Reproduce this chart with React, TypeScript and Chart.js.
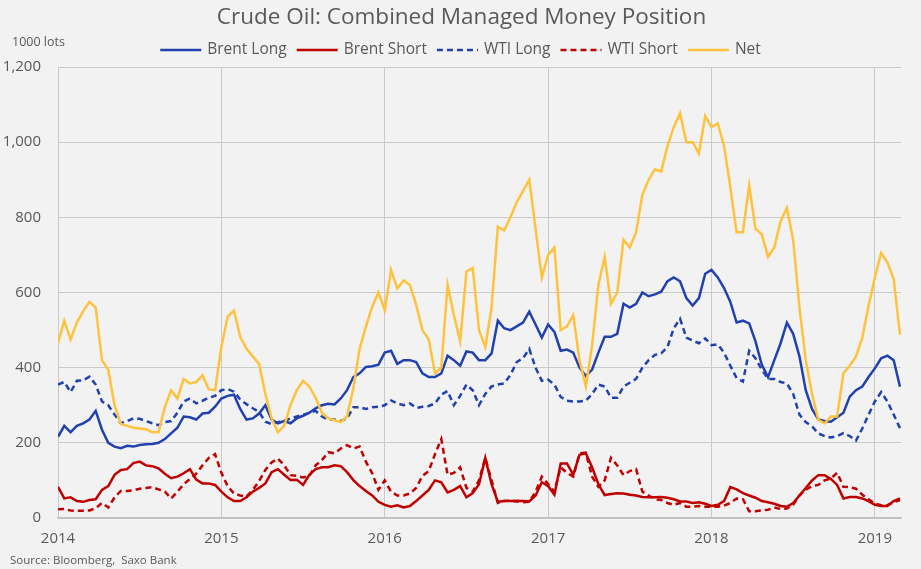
import { useEffect, useRef } from "react";
import { Chart, registerables } from "chart.js";

Chart.register(...registerables);

const TITLE = "Crude Oil: Combined Managed Money Position";
const UNIT_LABEL = "1000 lots";
const SOURCE = "Source: Bloomberg,  Saxo Bank";

// Observations are roughly every second week, starting in the first week of 2014
const firstYear = 2014;
const pointsPerYear = 26;

const yearTicks = [2014, 2015, 2016, 2017, 2018, 2019];
const valueTicks = [0, 200, 400, 600, 800, 1000, 1200];

const seriesNames = ["Brent Long", "Brent Short", "WTI Long", "WTI Short", "Net"];

const brentLong = [
  216, 245, 228, 245, 252, 262, 285, 235, 200, 190,
  186, 192, 190, 194, 196, 197, 200, 210, 225, 240,
  270, 268, 262, 278, 280, 296, 318, 325, 328, 290,
  262, 265, 278, 300, 262, 252, 258, 252, 265, 272,
  280, 292, 300, 304, 302, 318, 340, 375, 385, 402,
  404, 408, 440, 445, 410, 420, 420, 415, 385, 375,
  375, 385, 432, 420, 405, 443, 440, 420, 420, 438,
  525, 505, 500, 510, 520, 549, 515, 480, 515, 495,
  445, 448, 440, 400, 378, 395, 440, 482, 482, 490,
  570, 560, 570, 600, 590, 595, 602, 630, 640, 630,
  585, 565, 585, 650, 660, 640, 612, 575, 520, 525,
  518, 470, 408, 375, 420, 465, 520, 490, 430, 340,
  290, 262, 258, 256, 268, 280, 323, 340, 350, 375,
  398, 425, 432, 420, 349,
];

const brentShort = [
  83, 52, 55, 45, 43, 48, 50, 75, 85, 115,
  128, 130, 146, 150, 140, 138, 132, 118, 106, 110,
  119, 130, 102, 92, 92, 88, 70, 55, 45, 45,
  55, 70, 80, 92, 122, 130, 115, 101, 102, 88,
  115, 130, 135, 135, 140, 138, 122, 101, 85, 72,
  60, 43, 35, 30, 34, 28, 32, 45, 60, 75,
  100, 95, 68, 75, 85, 55, 66, 90, 160, 90,
  43, 45, 45, 46, 45, 44, 60, 95, 85, 62,
  145, 145, 115, 168, 172, 135, 90, 61, 64, 66,
  65, 62, 60, 56, 55, 55, 56, 54, 50, 44,
  44, 40, 42, 38, 32, 35, 45, 82, 76, 66,
  60, 54, 45, 42, 38, 32, 30, 40, 60, 80,
  100, 114, 114, 104, 88, 52, 56, 56, 52, 45,
  35, 32, 32, 45, 52,
];

const wtiLong = [
  355, 362, 335, 365, 366, 376, 355, 310, 300, 275,
  252, 258, 265, 264, 258, 252, 247, 255, 258, 280,
  310, 318, 305, 312, 320, 325, 340, 343, 336, 315,
  303, 292, 282, 256, 250, 255, 258, 265, 270, 275,
  280, 285, 270, 262, 262, 258, 265, 295, 295, 290,
  295, 296, 300, 313, 305, 300, 305, 293, 296, 298,
  305, 328, 338, 300, 325, 355, 340, 300, 330, 350,
  355, 358, 380, 415, 425, 450, 400, 365, 368, 355,
  322, 312, 310, 310, 312, 330, 355, 350, 320, 320,
  350, 360, 370, 400, 420, 434, 438, 455, 505, 530,
  480, 472, 465, 478, 460, 462, 440, 405, 372, 363,
  445, 425, 395, 370, 370, 362, 358, 330, 275, 255,
  244, 225, 218, 214, 218, 226, 218, 206, 238, 275,
  310, 335, 310, 275, 239,
];

const wtiShort = [
  23, 24, 20, 19, 19, 20, 26, 40, 28, 55,
  72, 72, 74, 78, 80, 82, 76, 70, 52, 70,
  90, 104, 118, 140, 160, 170, 120, 85, 65, 60,
  57, 75, 98, 128, 148, 158, 140, 114, 112, 108,
  112, 140, 154, 175, 172, 185, 194, 185, 190, 150,
  119, 75, 100, 70, 60, 60, 65, 80, 112, 125,
  170, 210, 115, 120, 135, 80, 70, 100, 160, 100,
  40, 45, 46, 44, 42, 43, 70, 110, 90, 70,
  135, 120, 110, 172, 174, 110, 83, 100, 160, 140,
  114, 125, 130, 70, 60, 50, 48, 40, 35, 40,
  30, 30, 32, 30, 30, 30, 33, 40, 52, 50,
  18, 18, 20, 22, 28, 24, 25, 35, 60, 75,
  85, 88, 100, 105, 120, 83, 82, 78, 62, 50,
  38, 34, 34, 42, 48,
];

const net = [
  465, 525, 475, 520, 550, 575, 560, 420, 394, 300,
  250, 245, 240, 238, 236, 228, 228, 295, 340, 318,
  370, 358, 362, 380, 342, 340, 455, 536, 552, 482,
  450, 430, 410, 330, 265, 228, 245, 300, 340, 365,
  350, 320, 280, 265, 260, 255, 270, 345, 450, 509,
  562, 600, 553, 660, 611, 632, 620, 567, 500, 475,
  385, 400, 620, 540, 470, 656, 665, 500, 455, 560,
  775, 765, 800, 840, 870, 900, 770, 640, 700, 720,
  500, 510, 540, 420, 350, 460, 620, 695, 570, 600,
  740, 720, 760, 860, 900, 928, 922, 990, 1040, 1077,
  1000, 1000, 970, 1070, 1040, 1050, 990, 880, 760, 760,
  885, 770, 755, 695, 720, 790, 825, 740, 560, 420,
  330, 261, 252, 270, 270, 385, 405, 430, 480, 565,
  640, 705, 680, 635, 487,
];

const dates = net.map((_, i) => firstYear + i / pointsPerYear);

const BLUE = "#2142AE";
const RED = "#C00000";
const YELLOW = "#FFC23D";
const TEXT = "#595959";
const GRID = "#CACACA";
const FONT = '"Open Sans", "DejaVu Sans", sans-serif';

const seriesValues = [brentLong, brentShort, wtiLong, wtiShort, net];
const seriesColors = [BLUE, RED, BLUE, RED, YELLOW];
const seriesDash: number[][] = [[], [], [6, 4], [6, 4], []];

const overlayPlugin = {
  id: "overlayTexts",
  afterDraw(chart: any) {
    const ctx = chart.ctx as CanvasRenderingContext2D;
    ctx.save();
    ctx.fillStyle = TEXT;
    ctx.textBaseline = "middle";

    // Title
    ctx.font = `22.5px ${FONT}`;
    ctx.textAlign = "center";
    ctx.fillText(TITLE, chart.width / 2 + 1, 18);

    // Legend
    ctx.font = `15.5px ${FONT}`;
    ctx.textAlign = "left";
    const lineLen = 41;
    const lineGap = 6;
    const itemGap = 10;
    const widths = seriesNames.map((n) => lineLen + lineGap + ctx.measureText(n).width);
    const total = widths.reduce((a, b) => a + b, 0) + itemGap * (widths.length - 1);
    let x = chart.width / 2 - total / 2;
    const ly = 50;
    seriesNames.forEach((name, i) => {
      ctx.save();
      ctx.strokeStyle = seriesColors[i];
      ctx.lineWidth = 2.5;
      ctx.setLineDash(seriesDash[i]);
      ctx.beginPath();
      ctx.moveTo(x, ly);
      ctx.lineTo(x + lineLen, ly);
      ctx.stroke();
      ctx.restore();
      ctx.fillStyle = TEXT;
      ctx.fillText(name, x + lineLen + lineGap, ly);
      x += widths[i] + itemGap;
    });

    // Unit label and source
    ctx.font = `12.5px ${FONT}`;
    ctx.fillText(UNIT_LABEL, 12, 42);
    ctx.font = `11.5px ${FONT}`;
    ctx.fillText(SOURCE, 10, 561);
    ctx.restore();
  },
};

export default function App() {
  const canvasRef = useRef<HTMLCanvasElement | null>(null);

  useEffect(() => {
    document.body.style.margin = "0";
    const canvas = canvasRef.current;
    if (!canvas) return;

    const chart = new Chart(canvas, {
      type: "line",
      data: {
        datasets: seriesNames.map((name, i) => ({
          label: name,
          data: seriesValues[i].map((v, j) => ({ x: dates[j], y: v })),
          borderColor: seriesColors[i],
          backgroundColor: seriesColors[i],
          borderWidth: 2.5,
          borderDash: seriesDash[i],
          pointRadius: 0,
          pointHoverRadius: 0,
          tension: 0,
          fill: false,
          order: seriesNames.length - 1 - i,
        })),
      },
      options: {
        animation: false,
        responsive: false,
        devicePixelRatio: 1,
        events: [],
        layout: { padding: { top: 67, right: 20, bottom: 0, left: 0 } },
        plugins: {
          legend: { display: false },
          title: { display: false },
          tooltip: { enabled: false },
        },
        scales: {
          x: {
            type: "linear",
            min: 2014,
            max: 2019.16,
            afterBuildTicks: (axis: any) => {
              axis.ticks = yearTicks.map((v) => ({ value: v }));
            },
            afterFit: (axis: any) => {
              axis.height = 51;
            },
            grid: { color: GRID, lineWidth: 1, drawTicks: false },
            border: { color: "#BFBFBF", width: 1.5 },
            ticks: {
              color: TEXT,
              font: { family: FONT, size: 15 },
              padding: 12,
              maxRotation: 0,
              autoSkip: false,
              callback: (v: any) => String(v),
            },
          },
          y: {
            min: 0,
            max: 1200,
            afterBuildTicks: (axis: any) => {
              axis.ticks = valueTicks.map((v) => ({ value: v }));
            },
            afterFit: (axis: any) => {
              axis.width = 58;
            },
            grid: { color: GRID, lineWidth: 1, drawTicks: false },
            border: { color: GRID, width: 1 },
            ticks: {
              color: TEXT,
              font: { family: FONT, size: 15 },
              padding: 17,
              callback: (v: any) => Number(v).toLocaleString("en-US"),
            },
          },
        },
      },
      plugins: [overlayPlugin],
    });

    return () => chart.destroy();
  }, []);

  return (
    <div style={{ width: 921, height: 569, background: "#F2F2F2", position: "relative" }}>
      <canvas ref={canvasRef} width={921} height={569} style={{ display: "block" }} />
    </div>
  );
}
